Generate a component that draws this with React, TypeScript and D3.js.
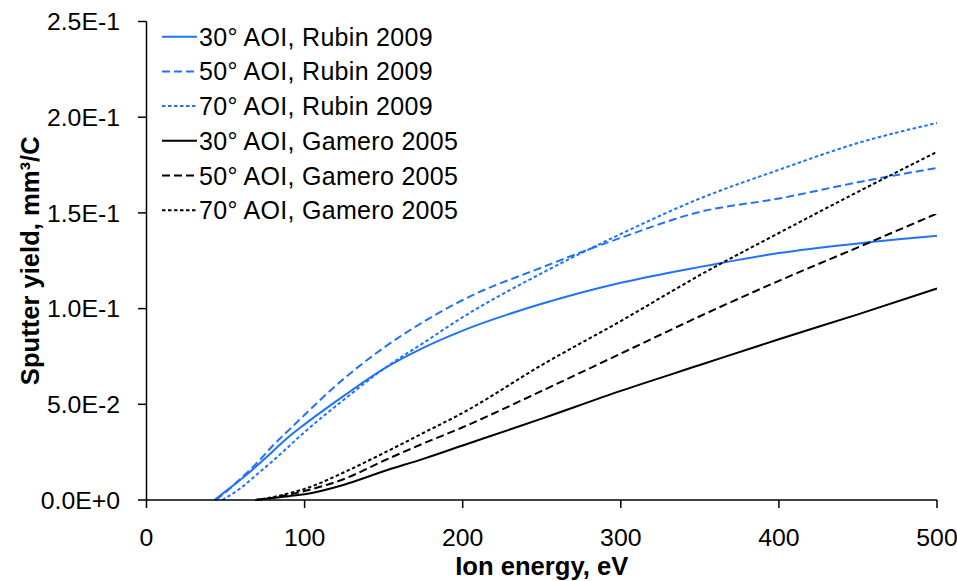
import React from "react";
import * as d3 from "d3";

type Pt = [number, number];

// Ion energy (eV) vs sputter yield (mm^3/C)
const rubin30: Pt[] = [[43,0],[50,0.0045],[60,0.011],[70,0.018],[80,0.0255],[90,0.033],[100,0.0395],[125,0.0545],[150,0.0685],[175,0.0795],[200,0.0885],[250,0.1025],[300,0.1135],[350,0.1218],[400,0.129],[450,0.134],[500,0.138]];
const rubin50: Pt[] = [[44,0],[50,0.004],[60,0.0115],[70,0.0195],[80,0.0285],[90,0.0365],[100,0.0445],[125,0.0635],[150,0.0795],[175,0.093],[200,0.1045],[250,0.1215],[300,0.137],[350,0.1505],[400,0.1575],[450,0.166],[500,0.1735]];
const rubin70: Pt[] = [[48,0],[50,0.001],[60,0.0065],[70,0.0135],[80,0.0205],[90,0.028],[100,0.0355],[125,0.0525],[150,0.0685],[175,0.082],[200,0.0955],[250,0.1185],[300,0.139],[350,0.1575],[400,0.1725],[450,0.1865],[500,0.197]];
const gamero30: Pt[] = [[69,0],[80,0.001],[90,0.002],[100,0.003],[125,0.008],[150,0.015],[175,0.0215],[200,0.0285],[250,0.0425],[300,0.057],[350,0.0705],[400,0.084],[450,0.097],[500,0.1105]];
const gamero50: Pt[] = [[69,0],[80,0.0012],[90,0.0028],[100,0.0047],[125,0.011],[150,0.0205],[175,0.0295],[200,0.038],[250,0.057],[300,0.0765],[350,0.096],[400,0.1145],[450,0.132],[500,0.1497]];
const gamero70: Pt[] = [[69,0],[80,0.0015],[90,0.0035],[100,0.0058],[125,0.0145],[150,0.0245],[175,0.035],[200,0.0455],[250,0.0705],[300,0.0935],[350,0.1175],[400,0.1395],[450,0.161],[500,0.1819]];

const seriesNames = [
  "30° AOI, Rubin 2009",
  "50° AOI, Rubin 2009",
  "70° AOI, Rubin 2009",
  "30° AOI, Gamero 2005",
  "50° AOI, Gamero 2005",
  "70° AOI, Gamero 2005",
];
const seriesData = [rubin30, rubin50, rubin70, gamero30, gamero50, gamero70];

const xTicks = [0, 100, 200, 300, 400, 500];
const yTicks = [0, 0.05, 0.1, 0.15, 0.2, 0.25];
const yTickLabels = ["0.0E+0", "5.0E-2", "1.0E-1", "1.5E-1", "2.0E-1", "2.5E-1"];

const BLUE = "#1f72fa";
const BLACK = "#000000";
const colors = [BLUE, BLUE, BLUE, BLACK, BLACK, BLACK];
const dashes = ["none", "8,4", "3.5,2.5", "none", "8,4", "3.5,2.5"];

const W = 957;
const H = 581;
const FONT = "'Liberation Sans', Arial, sans-serif";

export default function App() {
  const x = d3.scaleLinear().domain([0, 500]).range([146.5, 937]);
  const y = d3.scaleLinear().domain([0, 0.25]).range([500, 21.5]);
  const line = d3
    .line<Pt>()
    .x((d) => x(d[0]))
    .y((d) => y(d[1]))
    .curve(d3.curveMonotoneX);

  const legendX0 = 162;
  const legendX1 = 197;
  const legendY0 = 36.7;
  const legendStep = 34.7;

  return (
    <svg
      width={W}
      height={H}
      viewBox={`0 0 ${W} ${H}`}
      style={{ position: "absolute", left: 0, top: 0, background: "#fff", display: "block" }}
      fontFamily={FONT}
    >
      <rect x={0} y={0} width={W} height={H} fill="#fff" />
      {/* series */}
      {seriesData.map((d, i) => (
        <path
          key={i}
          d={line(d) || ""}
          fill="none"
          stroke={colors[i]}
          strokeWidth={2}
          strokeDasharray={dashes[i]}
        />
      ))}
      {/* axes */}
      <line x1={x(0)} x2={x(0)} y1={y(0.25)} y2={y(0)} stroke="#000" strokeWidth={1.5} />
      <line x1={x(0)} x2={x(500)} y1={y(0)} y2={y(0)} stroke="#000" strokeWidth={1.5} />
      {yTicks.map((t, i) => (
        <g key={"y" + i}>
          <line x1={x(0) - 8.5} x2={x(0)} y1={y(t)} y2={y(t)} stroke="#000" strokeWidth={1.5} />
          <text x={120} y={y(t) + 8.8} textAnchor="end" fontSize={24.8} fill="#000">
            {yTickLabels[i]}
          </text>
        </g>
      ))}
      {xTicks.map((t, i) => (
        <g key={"x" + i}>
          <line x1={x(t)} x2={x(t)} y1={y(0)} y2={y(0) + 8} stroke="#000" strokeWidth={1.5} />
          <text x={x(t)} y={546} textAnchor="middle" fontSize={24.8} fill="#000">
            {d3.format("d")(t)}
          </text>
        </g>
      ))}
      {/* axis titles */}
      <text x={(x(0) + x(500)) / 2} y={575} textAnchor="middle" fontSize={25.6} fontWeight="bold" fill="#000">
        Ion energy, eV
      </text>
      <text
        transform={`translate(38.5, ${(y(0) + y(0.25)) / 2}) rotate(-90)`}
        textAnchor="middle"
        fontSize={25.6}
        fontWeight="bold"
        fill="#000"
      >
        Sputter yield, mm³/C
      </text>
      {/* legend */}
      {seriesNames.map((name, i) => {
        const ly = legendY0 + i * legendStep;
        return (
          <g key={"l" + i}>
            <line
              x1={legendX0}
              x2={legendX1}
              y1={ly}
              y2={ly}
              stroke={colors[i]}
              strokeWidth={2}
              strokeDasharray={dashes[i]}
            />
            <text x={199} y={ly + 9} fontSize={25} letterSpacing={0.3} fill="#000">
              {name}
            </text>
          </g>
        );
      })}
    </svg>
  );
}
